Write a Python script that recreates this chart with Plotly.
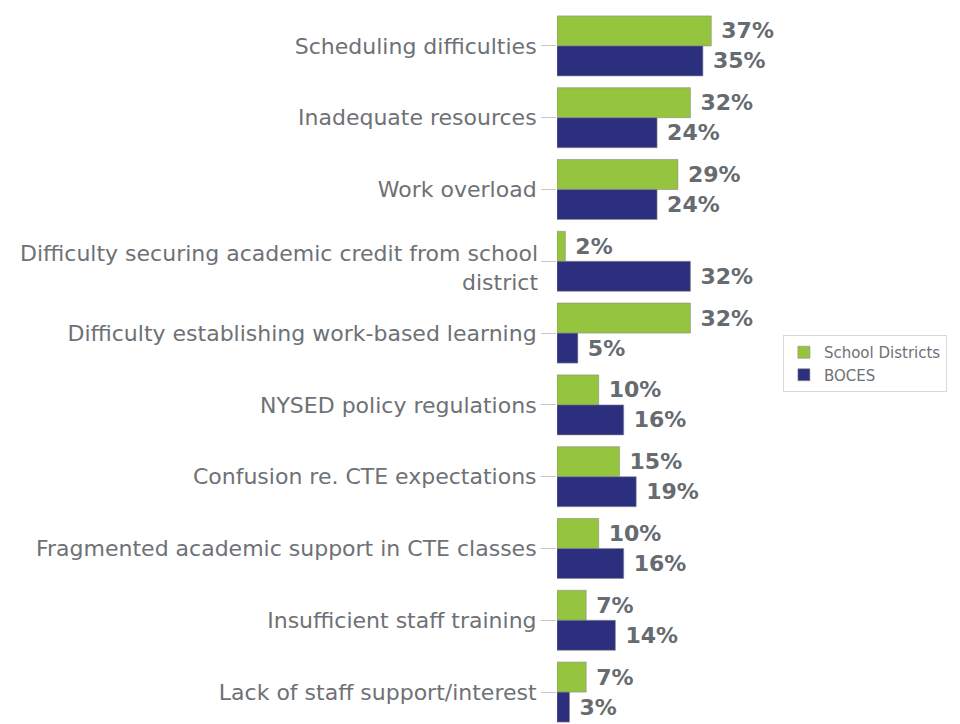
import plotly.graph_objects as go

categories = [
    "Scheduling difficulties",
    "Inadequate resources",
    "Work overload",
    "Difficulty securing academic credit from school<br>district",
    "Difficulty establishing work-based learning",
    "NYSED policy regulations",
    "Confusion re. CTE expectations",
    "Fragmented academic support in CTE classes",
    "Insufficient staff training",
    "Lack of staff support/interest",
]
school_districts = [37, 32, 29, 2, 32, 10, 15, 10, 7, 7]
boces = [35, 24, 24, 32, 5, 16, 19, 16, 14, 3]

GREEN = "#95c43e"
NAVY = "#2b2f7e"
TEXT_GRAY = "#6e7175"
label_font = dict(family="DejaVu Sans", size=22, color="#666b70")
tick_font = dict(family="DejaVu Sans", size=22, color=TEXT_GRAY)

fig = go.Figure()
fig.add_trace(go.Bar(
    name="School Districts", y=categories, x=school_districts, orientation="h",
    marker=dict(color=GREEN, line=dict(color="rgba(140,140,140,0.6)", width=1)),
    text=[f"\u00a0<b>{v}%</b>" for v in school_districts], textposition="outside",
    textfont=label_font, cliponaxis=False,
))
fig.add_trace(go.Bar(
    name="BOCES", y=categories, x=boces, orientation="h",
    marker=dict(color=NAVY, line=dict(color="rgba(140,140,140,0.6)", width=1)),
    text=[f"\u00a0<b>{v}%</b>" for v in boces], textposition="outside",
    textfont=label_font, cliponaxis=False,
))

# multi-line labels are drawn as annotations so the first line sits near the tick
ticktext = [c if "<br>" not in c else "" for c in categories]
for c in categories:
    if "<br>" in c:
        fig.add_annotation(
            x=0, xref="paper", y=c, yref="y", text=c, showarrow=False,
            xanchor="right", yanchor="middle", align="right",
            xshift=-17, yshift=-7, font=tick_font,
        )

fig.update_layout(
    width=960, height=724,
    margin=dict(l=549, r=180, t=2, b=0),
    paper_bgcolor="white", plot_bgcolor="white",
    barmode="group", bargap=0.164, bargroupgap=0,
    font=dict(family="DejaVu Sans", color=TEXT_GRAY),
    xaxis=dict(range=[0, 55.4], visible=False),
    yaxis=dict(
        range=[9.556, -0.5], showgrid=False, zeroline=False,
        tickmode="array", tickvals=categories, ticktext=ticktext,
        ticks="outside", ticklen=15, tickcolor="#c8c8c8", tickwidth=1,
        tickfont=tick_font, showline=False,
    ),
    legend=dict(
        x=0.978, y=0.5104, xanchor="left", yanchor="middle",
        bgcolor="white", bordercolor="#d8d8d8", borderwidth=1,
        font=dict(family="DejaVu Sans", size=15, color=TEXT_GRAY),
        itemwidth=30, tracegroupgap=0,
    ),
    showlegend=True,
)

fig.write_html("out.html")
